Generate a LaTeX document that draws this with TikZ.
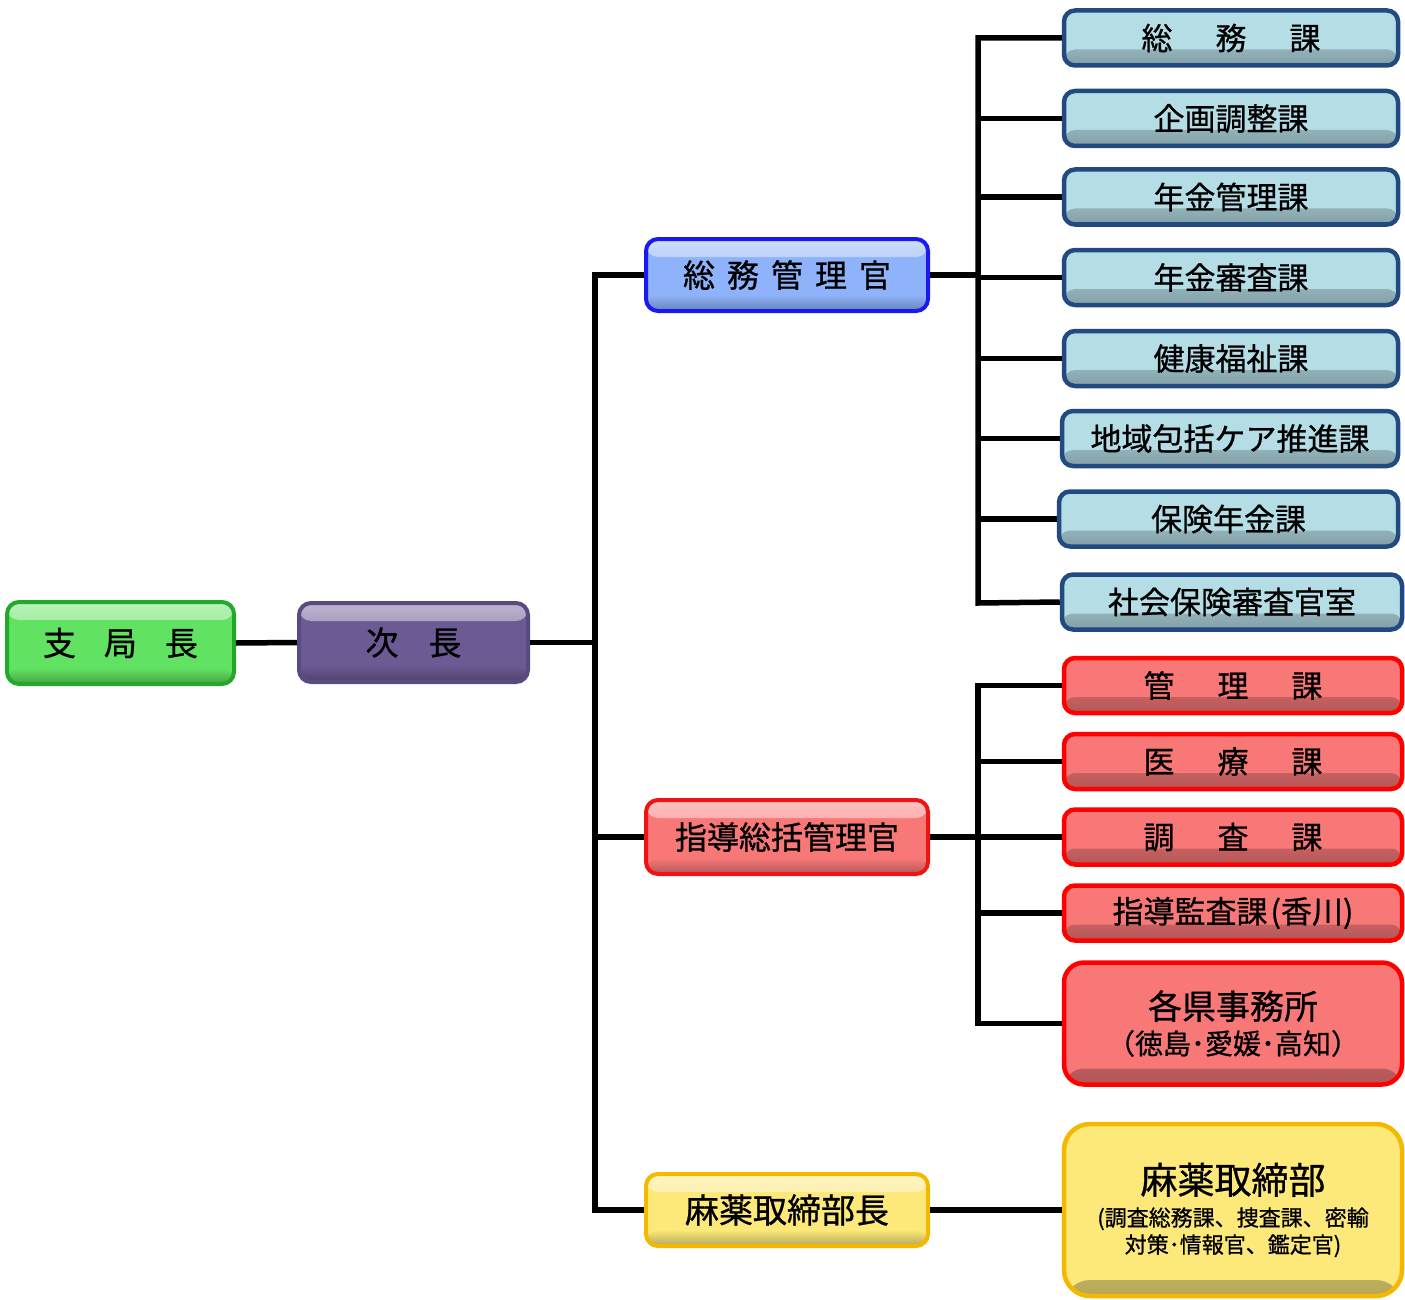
\documentclass[tikz,border=0pt]{standalone}
\usepackage{fontspec}
\setmainfont{Noto Sans CJK JP}[FakeBold=0.8]
\usetikzlibrary{calc}
\definecolor{gF}{HTML}{62E262}\definecolor{gB}{HTML}{22A82A}
\definecolor{pF}{HTML}{6B5A93}\definecolor{pB}{HTML}{5A4A80}
\definecolor{bF}{HTML}{8FB3FA}\definecolor{bB}{HTML}{1A1AF0}
\definecolor{rF}{HTML}{F87878}\definecolor{rB}{HTML}{EE1414}
\definecolor{yF}{HTML}{FCE97A}\definecolor{yB}{HTML}{F5B800}
\definecolor{lbF}{HTML}{B5DDE6}\definecolor{lbB}{HTML}{234A80}
\definecolor{rrB}{HTML}{FF0000}
\tikzset{
  conn/.style={line width=5.5pt},
  mainbox/.style 2 args={rectangle, rounded corners=12pt, line width=4pt, draw=#2, fill=#1,
     path picture={
       \shade[top color=#1!45!white, bottom color=#1]
         ([yshift=-18pt]path picture bounding box.north west) rectangle (path picture bounding box.north east);
       \shade[top color=#1, bottom color=#1!72!black]
         (path picture bounding box.south west) rectangle ([yshift=16pt]path picture bounding box.south east);
     },
     inner sep=0pt, text=black, font=\fontsize{33}{38}\selectfont},
  unitbox/.style 2 args={rectangle, rounded corners=11pt, line width=4.5pt, draw=#2, fill=#1,
     path picture={
       \shade[top color=#1, bottom color=#1!72!black]
         (path picture bounding box.south west) rectangle ([yshift=16pt]path picture bounding box.south east);
     },
     inner sep=0pt, text=black, font=\fontsize{31}{36}\selectfont,
     minimum height=55pt},
}
\begin{document}
\begin{tikzpicture}[x=1pt,y=-1pt]
\useasboundingbox (0,0) rectangle (1405,1300);
% left column
\node[mainbox={gF}{gB}, minimum width=227pt, minimum height=82pt] (shikyoku) at (120.5,643)
  {支\hspace{28pt}局\hspace{28pt}長};
\node[mainbox={pF}{pB}, minimum width=229pt, minimum height=79pt] (jicho) at (413.5,642.5)
  {次\hspace{30pt}長};
\node[mainbox={bF}{bB}, minimum width=282pt, minimum height=72pt, font=\fontsize{32}{38}\selectfont] (somukan) at (787,275)
  {総\hspace{12pt}務\hspace{12pt}管\hspace{12pt}理\hspace{12pt}官};
\node[mainbox={rF}{rB}, minimum width=282pt, minimum height=74pt, font=\fontsize{32}{38}\selectfont] (shidokan) at (787,837)
  {指導総括管理官};
\node[mainbox={yF}{yB}, minimum width=282pt, minimum height=72pt, font=\fontsize{34}{38}\selectfont] (mayakucho) at (787,1210)
  {麻薬取締部長};
% blue units
\node[unitbox={lbF}{lbB}, minimum width=334pt] (b1) at (1231,38) {総\hspace{43pt}務\hspace{43pt}課};
\node[unitbox={lbF}{lbB}, minimum width=334pt] (b2) at (1231,118.5) {企画調整課};
\node[unitbox={lbF}{lbB}, minimum width=334pt] (b3) at (1231,197) {年金管理課};
\node[unitbox={lbF}{lbB}, minimum width=334pt] (b4) at (1231,277.5) {年金審査課};
\node[unitbox={lbF}{lbB}, minimum width=334pt] (b5) at (1231,358.5) {健康福祉課};
\node[unitbox={lbF}{lbB}, minimum width=336pt] (b6) at (1230,438.5) {地域包括ケア推進課};
\node[unitbox={lbF}{lbB}, minimum width=339pt] (b7) at (1228.5,519) {保険年金課};
\node[unitbox={lbF}{lbB}, minimum width=340pt] (b8) at (1232,602) {社会保険審査官室};
% red units
\node[unitbox={rF}{rrB}, minimum width=338pt] (r1) at (1233,685.5) {管\hspace{43pt}理\hspace{43pt}課};
\node[unitbox={rF}{rrB}, minimum width=338pt] (r2) at (1233,761.5) {医\hspace{43pt}療\hspace{43pt}課};
\node[unitbox={rF}{rrB}, minimum width=338pt] (r3) at (1233,837) {調\hspace{43pt}査\hspace{43pt}課};
\node[unitbox={rF}{rrB}, minimum width=338pt] (r4) at (1233,913) {指導監査課\kern3pt(香川)};
\node[unitbox={rF}{rrB}, minimum width=338pt, minimum height=122pt, rounded corners=20pt, align=center] (r5) at (1233,1023.5)
  {{\fontsize{34}{40}\selectfont 各県事務所}\\[-1pt]{\fontsize{28}{32}\selectfont （徳島･愛媛･高知）}};
% yellow unit
\node[unitbox={yF}{yB}, minimum width=338pt, minimum height=172pt, rounded corners=26pt, align=center,
      font=\fontsize{22}{27}\selectfont] (y1) at (1233,1210)
  {{\fontsize{37}{44}\selectfont 麻薬取締部}\\[5pt](調査総務課、捜査課、密輸\\対策･情報官、鑑定官)};
% connectors
\coordinate (tA) at (595,275);
\coordinate (tB) at (595,1210);
\coordinate (uA) at (978,38);
\coordinate (uB) at (978,603);
\coordinate (vA) at (978,685.5);
\coordinate (vB) at (978,1023.5);
\draw[conn] (shikyoku.east) -- (jicho.west);
\draw[conn] (jicho.east) -- (jicho.east -| tA);
\draw[conn] (somukan.west) -- (tA) -- (tB) -- (mayakucho.west);
\draw[conn] (shidokan.west) -- (shidokan.west -| tA);
\draw[conn] (b1.west) -- (uA) -- (uB) -- (b8.west);
\foreach \n in {b2,b3,b4,b5,b6,b7} \draw[conn] (\n.west) -- (\n.west -| uA);
\draw[conn] (somukan.east) -- (somukan.east -| uA);
\draw[conn] (r1.west) -- (vA) -- (vB) -- (r5.west);
\foreach \n in {r2,r3,r4} \draw[conn] (\n.west) -- (\n.west -| vA);
\draw[conn] (shidokan.east) -- (shidokan.east -| vA);
\draw[conn] (mayakucho.east) -- (y1.west);
\end{tikzpicture}
\end{document}
